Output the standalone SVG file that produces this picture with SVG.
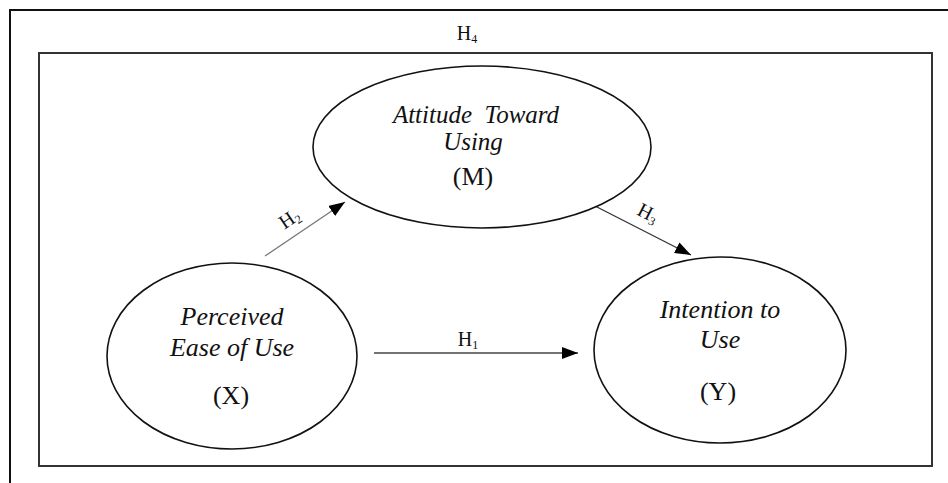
<svg xmlns="http://www.w3.org/2000/svg" width="948" height="483" viewBox="0 0 948 483">
<style>
.frame{fill:none;stroke:#111;stroke-width:2}
.inner{fill:none;stroke:#333;stroke-width:2}
.node{fill:#fff;stroke:#111;stroke-width:1.6}
.t{font-family:"Liberation Serif","Times New Roman",serif;fill:#111;text-anchor:middle}
.it{font-style:italic}
.lab{font-family:"Liberation Serif","Times New Roman",serif;fill:#111;font-size:20px;text-anchor:middle}
.sub{font-size:12px}
.conn{fill:none;stroke-width:1.3}
</style>
<defs>
<marker id="ah" markerUnits="userSpaceOnUse" markerWidth="16" markerHeight="12" viewBox="0 0 16 12" refX="16" refY="6" orient="auto">
<path d="M0,0 L16,6 L0,12 Z" fill="#000"/>
</marker>
</defs>
<rect class="frame" x="10" y="10" width="960" height="500"/>
<rect class="inner" x="39" y="53" width="893" height="413"/>
<text class="lab" x="467" y="40">H<tspan class="sub" dy="3">4</tspan></text>
<g id="connectors">
<line class="conn" x1="265" y1="256" x2="345" y2="202" stroke="#777" marker-end="url(#ah)"/>
<line class="conn" x1="595" y1="206" x2="691" y2="255" stroke="#333" marker-end="url(#ah)"/>
<line class="conn" x1="374" y1="353" x2="578" y2="353" stroke="#444" marker-end="url(#ah)"/>
<text class="lab" transform="translate(293,224) rotate(-34)">H<tspan class="sub" dy="3">2</tspan></text>
<text class="lab" transform="translate(645,219) rotate(27)">H<tspan class="sub" dy="3">3</tspan></text>
<text class="lab" x="468" y="346">H<tspan class="sub" dy="3">1</tspan></text>
</g>
<g id="node-M">
<ellipse class="node" cx="482" cy="147" rx="169" ry="81"/>
<text class="t it" x="476" y="123" font-size="25" xml:space="preserve">Attitude  Toward</text>
<text class="t it" x="473" y="150" font-size="25">Using</text>
<text class="t" x="473" y="185" font-size="26">(M)</text>
</g>
<g id="node-X">
<ellipse class="node" cx="232" cy="356" rx="125" ry="93"/>
<text class="t it" x="232" y="325" font-size="26">Perceived</text>
<text class="t it" x="232" y="356" font-size="26">Ease of Use</text>
<text class="t" x="231" y="404" font-size="26">(X)</text>
</g>
<g id="node-Y">
<ellipse class="node" cx="720" cy="350" rx="126" ry="93"/>
<text class="t it" x="720" y="318" font-size="26">Intention to</text>
<text class="t it" x="720" y="348" font-size="26">Use</text>
<text class="t" x="718" y="400" font-size="26">(Y)</text>
</g>
</svg>
